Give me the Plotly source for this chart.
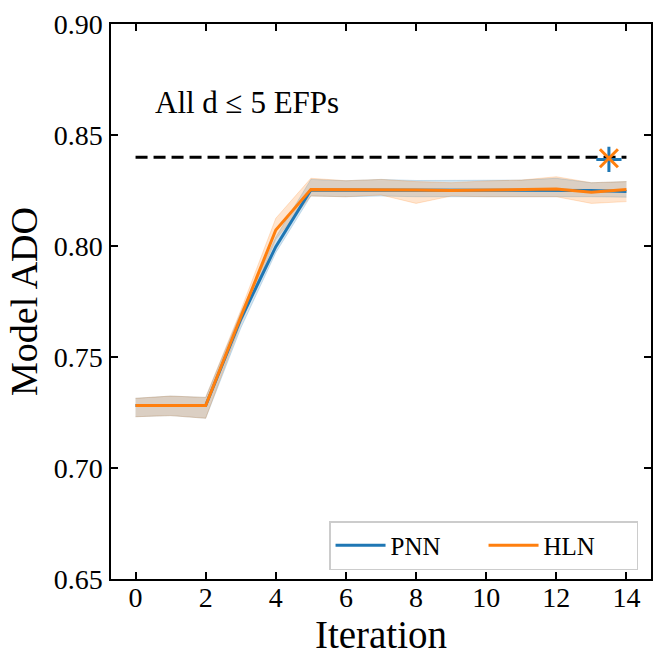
import plotly.graph_objects as go

# values
iterations = list(range(15))

pnn_mean = [0.7281, 0.7281, 0.7281, 0.7670, 0.7997, 0.8252, 0.8252, 0.8250,
            0.8250, 0.8250, 0.8250, 0.8250, 0.8252, 0.8250, 0.8245]
pnn_low = [0.7231, 0.7236, 0.7224, 0.7630, 0.7970, 0.8225, 0.8222, 0.8225,
           0.8222, 0.8222, 0.8222, 0.8222, 0.8225, 0.8222, 0.8220]
pnn_high = [0.7314, 0.7324, 0.7318, 0.7700, 0.8040, 0.8300, 0.8294, 0.8300,
            0.8295, 0.8295, 0.8295, 0.8297, 0.8305, 0.8285, 0.8290]

hln_mean = [0.7281, 0.7281, 0.7281, 0.7680, 0.8072, 0.8255, 0.8255, 0.8252,
            0.8252, 0.8250, 0.8252, 0.8255, 0.8257, 0.8242, 0.8255]
hln_low = [0.7231, 0.7236, 0.7224, 0.7650, 0.8030, 0.8225, 0.8222, 0.8230,
           0.8192, 0.8225, 0.8222, 0.8222, 0.8222, 0.8192, 0.8200]
hln_high = [0.7314, 0.7324, 0.7318, 0.7710, 0.8125, 0.8305, 0.8294, 0.8300,
            0.8290, 0.8285, 0.8293, 0.8297, 0.8312, 0.8285, 0.8290]

full_ado = 0.84
full_x = [0, 14]
best_x = 13.5
best_pnn = 0.839
best_hln = 0.8395

blue = "#1f77b4"
orange = "#ff7f0e"
font = "Liberation Serif"

fig = go.Figure()

# shaded bands
for lo, hi, rgba in [(pnn_low, pnn_high, "rgba(31,119,180,0.2)"),
                     (hln_low, hln_high, "rgba(255,127,14,0.2)")]:
    fig.add_trace(go.Scatter(x=iterations, y=lo, mode="lines",
                             line=dict(color=rgba, width=1),
                             showlegend=False, hoverinfo="skip"))
    fig.add_trace(go.Scatter(x=iterations, y=hi, mode="lines", fill="tonexty",
                             fillcolor=rgba, line=dict(color=rgba, width=1),
                             showlegend=False, hoverinfo="skip"))

fig.add_trace(go.Scatter(x=iterations, y=pnn_mean, mode="lines", name="PNN",
                         line=dict(color=blue, width=3)))
fig.add_trace(go.Scatter(x=iterations, y=hln_mean, mode="lines", name="HLN",
                         line=dict(color=orange, width=3)))

fig.add_trace(go.Scatter(x=full_x, y=[full_ado, full_ado], mode="lines",
                         line=dict(color="black", width=3, dash="12px,6px"),
                         showlegend=False))

fig.add_trace(go.Scatter(x=[best_x], y=[best_pnn], mode="markers", showlegend=False,
                         marker=dict(symbol="cross-thin-open", size=18, color=blue,
                                     line=dict(color=blue, width=3))))
fig.add_trace(go.Scatter(x=[best_x], y=[best_hln], mode="markers", showlegend=False,
                         marker=dict(symbol="x-thin-open", size=18, color=orange,
                                     line=dict(color=orange, width=3))))

fig.add_annotation(x=0.5, y=0.8645, xref="x", yref="y", text="All d \u2264 5 EFPs",
                   showarrow=False, xanchor="left", yanchor="middle",
                   font=dict(family=font, size=31, color="black"))

axis_style = dict(showgrid=False, zeroline=False, showline=True, linecolor="black",
                  linewidth=1.5, mirror="allticks", ticks="inside", ticklen=7,
                  tickwidth=1.5, tickcolor="black", automargin=False,
                  tickfont=dict(family=font, size=28, color="black"))

fig.update_xaxes(range=[-0.7, 14.7], tickvals=list(range(0, 15, 2)),
                 title=dict(text="Iteration", font=dict(family=font, size=39, color="black"),
                            standoff=2),
                 ticklabelstandoff=-7, **axis_style)
fig.update_yaxes(range=[0.65, 0.90], dtick=0.05, tickformat=".2f",
                 title=dict(text="Model ADO", font=dict(family=font, size=38, color="black"),
                            standoff=4),
                 ticklabelstandoff=1, **axis_style)

fig.update_layout(
    width=665, height=665,
    margin=dict(l=111, r=14, t=24, b=86),
    plot_bgcolor="white", paper_bgcolor="white",
    legend=dict(orientation="h", x=0.976, y=0.016, xanchor="right", yanchor="bottom",
                traceorder="normal", itemwidth=50,
                bordercolor="#cccccc", borderwidth=1.5, bgcolor="rgba(255,255,255,0.8)",
                font=dict(family=font, size=25, color="black"), entrywidth=88),
)

# the page body has an 8px default margin; drop it so the figure fills the window
fig.write_html("out.html", config={"displayModeBar": False},
               post_script="document.body.style.margin = '0px';")
